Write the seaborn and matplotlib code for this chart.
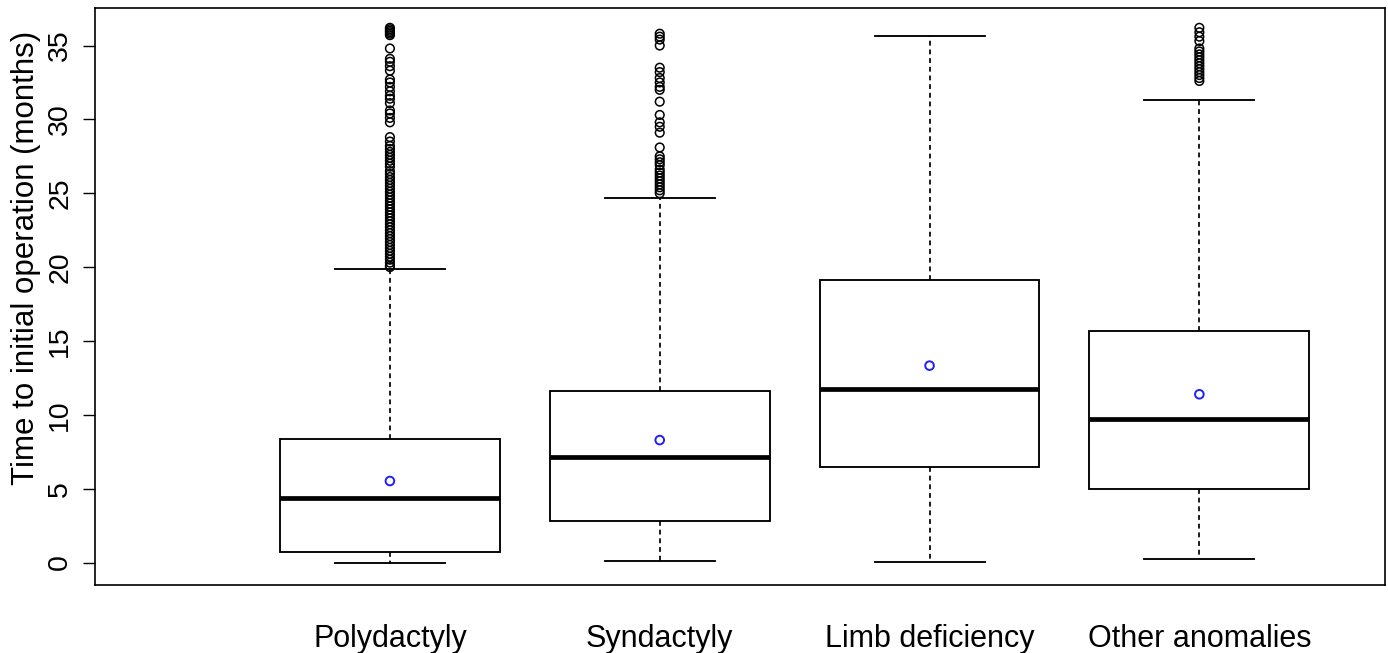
import matplotlib
matplotlib.use("Agg")
import matplotlib.pyplot as plt
import numpy as np
import pandas as pd
import seaborn as sns

# ---------------- data ----------------
categories = ["Polydactyly", "Syndactyly", "Limb deficiency", "Other anomalies"]
whisker_low = [0.0, 0.12, 0.07, 0.24]
q1 = [0.73, 2.81, 6.49, 4.98]
median = [4.39, 7.16, 11.73, 9.74]
q3 = [8.34, 11.61, 19.13, 15.67]
whisker_high = [19.85, 24.66, 35.67, 31.3]
means = [5.52, 8.29, 13.33, 11.39]

outliers_polydactyly = [36.2, 36.1, 36.0, 35.9, 35.8, 35.7, 34.8, 34.1, 33.9, 33.6,
                        33.3, 32.7, 32.5, 32.2, 31.9, 31.6, 31.4, 31.1, 30.6, 30.4,
                        30.1, 29.8, 28.8, 28.5, 28.2, 28.0, 27.8, 27.6, 27.4, 27.2,
                        27.0, 26.8, 26.5, 26.3, 26.1, 25.9, 25.7, 25.5, 25.3, 25.1,
                        24.9, 24.7, 24.5, 24.3, 24.1, 23.9, 23.7, 23.5, 23.3, 23.1,
                        22.9, 22.7, 22.5, 22.3, 22.1, 21.9, 21.7, 21.5, 21.3, 21.1,
                        20.9, 20.7, 20.5, 20.3, 20.1, 20.0]
outliers_syndactyly = [35.8, 35.6, 35.4, 35.0, 33.5, 33.2, 32.8, 32.5, 32.2, 32.0,
                       31.2, 30.3, 29.8, 29.5, 29.1, 28.1, 27.5, 27.3, 27.1, 26.9,
                       26.6, 26.4, 26.2, 26.0, 25.8, 25.6, 25.4, 25.2, 25.0]
outliers_limb = []
outliers_other = [36.2, 35.9, 35.6, 35.3, 34.8, 34.6, 34.4, 34.2, 34.0, 33.8,
                  33.6, 33.4, 33.2, 33.0, 32.8, 32.6]

y_ticks = [0, 5, 10, 15, 20, 25, 30, 35]
y_label = "Time to initial operation (months)"

# ---------------- tables for seaborn ----------------
box_rows = []
for i, c in enumerate(categories):
    for v in (whisker_low[i], q1[i], median[i], q3[i], whisker_high[i]):
        box_rows.append({"group": c, "value": v})
box_df = pd.DataFrame(box_rows)

out_rows = []
for c, vals in zip(categories, [outliers_polydactyly, outliers_syndactyly,
                                outliers_limb, outliers_other]):
    for v in vals:
        out_rows.append({"group": c, "value": v})
out_df = pd.DataFrame(out_rows)

mean_df = pd.DataFrame({"group": categories, "value": means})

# ---------------- figure ----------------
plt.rcParams["font.family"] = ["Liberation Sans", "DejaVu Sans"]
fig = plt.figure(figsize=(13.88, 6.53), dpi=100)
ax = fig.add_axes([95 / 1388, 1 - 585 / 653, 1290 / 1388, 577 / 653])

sns.boxplot(data=box_df, x="group", y="value", order=categories, ax=ax,
            whis=(0, 100), showfliers=False, width=0.815,
            color="white", linecolor="black", linewidth=1.35,
            whiskerprops=dict(linestyle=(0, (2.8, 2.2)), linewidth=1.25),
            capprops=dict(linewidth=1.35),
            medianprops=dict(linewidth=3.4, color="black", solid_capstyle="butt"))

sns.stripplot(data=out_df, x="group", y="value", order=categories, ax=ax,
              jitter=False, size=6.2, marker="o", facecolor="none",
              edgecolor="black", linewidth=1.1, zorder=3)

sns.stripplot(data=mean_df, x="group", y="value", order=categories, ax=ax,
              jitter=False, size=6.2, marker="o", facecolor="none",
              edgecolor="#1f1fff", linewidth=1.4, zorder=4)

ax.set_xlim(-1.093, 3.688)
ax.set_ylim(-1.52, 37.54)

ax.set_yticks(y_ticks)
ax.set_yticklabels([str(t) for t in y_ticks], rotation=90, va="center",
                   fontsize=20.5)
ax.tick_params(axis="y", length=8.6, width=1.0, pad=7, color="black")
ax.tick_params(axis="x", length=0, pad=28, labelsize=22)
ax.set_xlabel("")
ax.set_ylabel(y_label, fontsize=22.5)
ax.yaxis.set_label_coords(-0.042, 0.567)

for s in ax.spines.values():
    s.set_visible(True)
    s.set_color("black")
    s.set_linewidth(1.2)
ax.set_facecolor("white")
fig.patch.set_facecolor("white")

fig.savefig("out.png", dpi=100, facecolor="white")
